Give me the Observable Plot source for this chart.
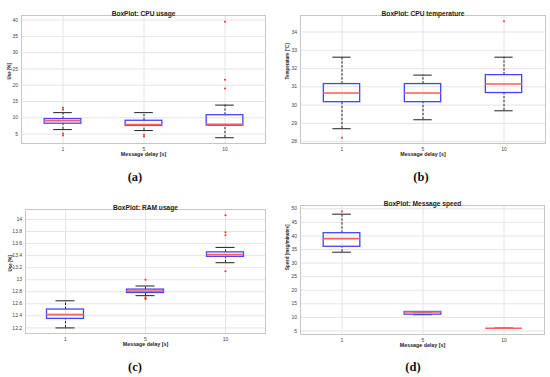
<!DOCTYPE html>
<html>
<head>
<meta charset="utf-8">
<script src="https://cdn.jsdelivr.net/npm/d3@7"></script>
<script src="https://cdn.jsdelivr.net/npm/@observablehq/plot@0.6"></script>
<style>
  html, body { margin: 0; padding: 0; background: #fff; }
  #root { position: relative; width: 550px; height: 377px; overflow: hidden; background: #fff; font-family: "Liberation Sans", Arial, sans-serif; }
  .panel { position: absolute; }
  .cap { position: absolute; transform: translate(-50%, -50%); font-family: "Liberation Serif", "DejaVu Serif", serif; font-size: 12.5px; font-weight: bold; color: #111; line-height: 1; white-space: nowrap; }
</style>
</head>
<body>
<div id="root"></div>
<script>
// ---- shared categories ----
const delays = ["1", "5", "10"];
const xLabel = "Message delay [s]";

// ---- (a) CPU usage ----
const cpuTitle = "BoxPlot: CPU usage";
const cpuYLabel = "Use [%]";
const cpuTicks = [5, 10, 15, 20, 25, 30, 35, 40];
const cpuQ1 = [8.2, 7.5, 7.6];
const cpuMed = [9.1, 7.9, 8.0];
const cpuQ3 = [9.6, 9.1, 10.8];
const cpuLo = [6.4, 6.1, 3.9];
const cpuHi = [11.6, 11.6, 13.9];
const cpuOutDelay = ["1", "1", "1", "1", "5", "5", "10", "10", "10"];
const cpuOutVal = [13.1, 12.5, 5.2, 4.6, 4.8, 4.3, 39.5, 21.7, 19.0];

// ---- (b) CPU temperature ----
const tempTitle = "BoxPlot: CPU temperature";
const tempYLabel = "Temperature [°C]";
const tempTicks = [28, 29, 30, 31, 32, 33, 34];
const tempQ1 = [30.16, 30.16, 30.66];
const tempMed = [30.66, 30.66, 31.15];
const tempQ3 = [31.15, 31.15, 31.64];
const tempLo = [28.71, 29.2, 29.69];
const tempHi = [32.62, 31.64, 32.62];
const tempOutDelay = ["1", "10"];
const tempOutVal = [28.22, 34.58];

// ---- (c) RAM usage ----
const ramTitle = "BoxPlot: RAM usage";
const ramYLabel = "Use [%]";
const ramTicks = [12.2, 12.4, 12.6, 12.8, 13, 13.2, 13.4, 13.6, 13.8, 14];
const ramQ1 = [12.35, 12.78, 13.38];
const ramMed = [12.42, 12.81, 13.42];
const ramQ3 = [12.505, 12.836, 13.454];
const ramLo = [12.2, 12.736, 13.283];
const ramHi = [12.65, 12.896, 13.536];
const ramOutDelay = ["5", "5", "5", "5", "10", "10", "10", "10"];
const ramOutVal = [13.0, 12.71, 12.69, 12.68, 14.07, 13.79, 13.74, 13.14];

// ---- (d) Message speed ----
const spdTitle = "BoxPlot: Message speed";
const spdYLabel = "Speed [msg/minutes]";
const spdTicks = [5, 10, 15, 20, 25, 30, 35, 40, 45, 50];
const spdQ1 = [36, 11, 6];
const spdMed = [39, 12, 6];
const spdQ3 = [41, 12, 6];
const spdLo = [34, 11, 6];
const spdHi = [48, 12, 6];
const spdOutDelay = ["1"];
const spdOutVal = [49];

function panel(o) {
  const rows = delays.map((d, i) => ({d, q1: o.q1[i], med: o.med[i], q3: o.q3[i], lo: o.lo[i], hi: o.hi[i]}));
  const outs = o.outD.map((d, i) => ({d, v: o.outV[i]}));
  const band = (o.width - o.ml - o.mr) / delays.length;
  const boxInset = (band - 37) / 2;
  const capInset = (band - 19) / 2;
  const fmt = d => String(+d.toFixed(1));
  const chart = Plot.plot({
    width: o.width, height: o.height,
    marginLeft: o.ml, marginRight: o.mr, marginTop: o.mt, marginBottom: o.mb,
    style: {background: "#fff", color: "#444", fontFamily: "'Liberation Sans', Arial, sans-serif", overflow: "visible"},
    x: {type: "band", domain: delays, paddingInner: 0, paddingOuter: 0, axis: null},
    y: {domain: o.domain, nice: false, axis: null},
    marks: [
      Plot.gridY(o.ticks, {stroke: "#e4e4e4", strokeOpacity: 1}),
      Plot.gridX(delays, {stroke: "#e4e4e4", strokeOpacity: 1}),
      Plot.frame({stroke: "#c6c6c6"}),
      Plot.axisY(o.ticks, {tickSize: 0, tickPadding: 3.4, fontSize: 5, tickFormat: fmt, label: null}),
      Plot.axisX(delays, {tickSize: 0, tickPadding: 3.5, fontSize: 5, label: null}),
      Plot.ruleX(rows, {x: "d", y1: "lo", y2: "q1", stroke: "#222", strokeWidth: 1, strokeDasharray: "2.4,1.6"}),
      Plot.ruleX(rows, {x: "d", y1: "q3", y2: "hi", stroke: "#222", strokeWidth: 1, strokeDasharray: "2.4,1.6"}),
      Plot.tickY(rows, {x: "d", y: "lo", inset: capInset, stroke: "#333", strokeWidth: 1.1}),
      Plot.tickY(rows, {x: "d", y: "hi", inset: capInset, stroke: "#333", strokeWidth: 1.1}),
      Plot.barY(rows, {x: "d", y1: "q1", y2: "q3", insetLeft: boxInset, insetRight: boxInset, fill: "none", stroke: "#4444ff", strokeWidth: 1.3}),
      Plot.tickY(rows, {x: "d", y: "med", inset: boxInset, stroke: "#ff5c5c", strokeWidth: 1.6}),
      Plot.dot(outs, {x: "d", y: "v", r: 1, fill: "#ff2a2a", stroke: "none"}),
      Plot.text([o.title], {text: d => d, frameAnchor: "top", dy: -4, fontWeight: "bold", fontSize: 6.6, fill: "#222"}),
      Plot.text([xLabel], {text: d => d, frameAnchor: "bottom", dy: 12.7, fontWeight: "bold", fontSize: 5.3, fill: "#222"}),
      Plot.text([o.ylabel], {text: d => d, frameAnchor: "left", dx: o.ydx, rotate: -90, fontWeight: "bold", fontSize: 4.5, fill: "#222"})
    ]
  });
  const wrap = document.createElement("div");
  wrap.className = "panel";
  wrap.style.left = o.left + "px";
  wrap.style.top = o.top + "px";
  wrap.appendChild(chart);
  document.getElementById("root").appendChild(wrap);
  const cap = document.createElement("div");
  cap.className = "cap";
  cap.textContent = o.caption;
  cap.style.left = o.capX + "px";
  cap.style.top = o.capY + "px";
  document.getElementById("root").appendChild(cap);
}

panel({left: 0, top: 0, width: 275, height: 165, ml: 21, mr: 10, mt: 15, mb: 22,
  domain: [2.12, 41.4], ticks: cpuTicks, q1: cpuQ1, med: cpuMed, q3: cpuQ3, lo: cpuLo, hi: cpuHi,
  outD: cpuOutDelay, outV: cpuOutVal, title: cpuTitle, ylabel: cpuYLabel, ydx: -12.4, caption: "(a)", capX: 135, capY: 177});

panel({left: 275, top: 0, width: 275, height: 165, ml: 25, mr: 5, mt: 15, mb: 22,
  domain: [27.9, 34.9], ticks: tempTicks, q1: tempQ1, med: tempMed, q3: tempQ3, lo: tempLo, hi: tempHi,
  outD: tempOutDelay, outV: tempOutVal, title: tempTitle, ylabel: tempYLabel, ydx: -13.3, caption: "(b)", capX: 421, capY: 177});

panel({left: 0, top: 190, width: 275, height: 165, ml: 25, mr: 10, mt: 19, mb: 22,
  domain: [12.107, 14.166], ticks: ramTicks, q1: ramQ1, med: ramMed, q3: ramQ3, lo: ramLo, hi: ramHi,
  outD: ramOutDelay, outV: ramOutVal, title: ramTitle, ylabel: ramYLabel, ydx: -15, caption: "(c)", capX: 135, capY: 367});

panel({left: 275, top: 190, width: 275, height: 165, ml: 25, mr: 6, mt: 15, mb: 21,
  domain: [3.7, 51.2], ticks: spdTicks, q1: spdQ1, med: spdMed, q3: spdQ3, lo: spdLo, hi: spdHi,
  outD: spdOutDelay, outV: spdOutVal, title: spdTitle, ylabel: spdYLabel, ydx: -12.6, caption: "(d)", capX: 413, capY: 367});
</script>
</body>
</html>
